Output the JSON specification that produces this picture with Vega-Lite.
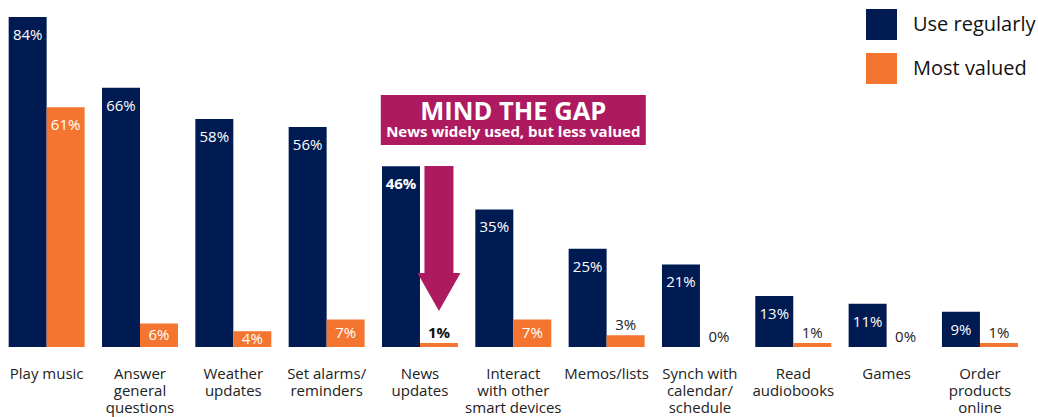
{
  "$schema": "https://vega.github.io/schema/vega-lite/v6.json",
  "autosize": "none",
  "padding": {"left": 0, "top": 0, "right": 11.4, "bottom": 70},
  "width": 1026.6,
  "height": 347,
  "background": "white",
  "config": {"view": {"stroke": null}, "font": "Open Sans"},
  "datasets": {
    "main": [
      {"category": "Play music", "series": "Use regularly", "value": 84},
      {"category": "Play music", "series": "Most valued", "value": 61},
      {"category": "Answer general questions", "series": "Use regularly", "value": 66},
      {"category": "Answer general questions", "series": "Most valued", "value": 6},
      {"category": "Weather updates", "series": "Use regularly", "value": 58},
      {"category": "Weather updates", "series": "Most valued", "value": 4},
      {"category": "Set alarms/reminders", "series": "Use regularly", "value": 56},
      {"category": "Set alarms/reminders", "series": "Most valued", "value": 7},
      {"category": "News updates", "series": "Use regularly", "value": 46},
      {"category": "News updates", "series": "Most valued", "value": 1},
      {"category": "Interact with other smart devices", "series": "Use regularly", "value": 35},
      {"category": "Interact with other smart devices", "series": "Most valued", "value": 7},
      {"category": "Memos/lists", "series": "Use regularly", "value": 25},
      {"category": "Memos/lists", "series": "Most valued", "value": 3},
      {"category": "Synch with calendar/schedule", "series": "Use regularly", "value": 21},
      {"category": "Synch with calendar/schedule", "series": "Most valued", "value": 0},
      {"category": "Read audiobooks", "series": "Use regularly", "value": 13},
      {"category": "Read audiobooks", "series": "Most valued", "value": 1},
      {"category": "Games", "series": "Use regularly", "value": 11},
      {"category": "Games", "series": "Most valued", "value": 0},
      {"category": "Order products online", "series": "Use regularly", "value": 9},
      {"category": "Order products online", "series": "Most valued", "value": 1}
    ],
    "note": [
      {"category": "Interact with other smart devices", "arrowCat": "News updates", "arrowSeries": "Most valued",
       "title": "MIND THE GAP", "subtitle": "News widely used, but less valued"}
    ]
  },
  "layer": [
    {
      "data": {"name": "main"},
      "transform": [
        {"calculate": "datum.value + '%'", "as": "label"},
        {"calculate": "datum.value / 2", "as": "mid"}
      ],
      "encoding": {
        "x": {
          "field": "category", "type": "nominal", "sort": null,
          "scale": {
            "domain": ["Play music", "Answer general questions", "Weather updates", "Set alarms/reminders", "News updates", "Interact with other smart devices", "Memos/lists", "Synch with calendar/schedule", "Read audiobooks", "Games", "Order products online"],
            "paddingInner": 0.186, "paddingOuter": 0.093
          },
          "axis": {
            "title": null, "domain": false, "ticks": false, "grid": false,
            "labelAngle": 0, "labelFontSize": 15, "labelColor": "#222",
            "labelPadding": 26, "labelLineHeight": 17, "labelLimit": 0,
            "labelOverlap": false, "labelBaseline": "middle",
            "labelExpr": "datum.value == 'Answer general questions' ? ['Answer','general','questions'] : datum.value == 'Weather updates' ? ['Weather','updates'] : datum.value == 'Set alarms/reminders' ? ['Set alarms/','reminders'] : datum.value == 'News updates' ? ['News','updates'] : datum.value == 'Interact with other smart devices' ? ['Interact','with other','smart devices'] : datum.value == 'Synch with calendar/schedule' ? ['Synch with','calendar/','schedule'] : datum.value == 'Read audiobooks' ? ['Read','audiobooks'] : datum.value == 'Order products online' ? ['Order','products','online'] : datum.value"
          }
        },
        "xOffset": {
          "field": "series", "type": "nominal", "sort": ["Use regularly", "Most valued"],
          "scale": {"domain": ["Use regularly", "Most valued"], "paddingInner": 0, "paddingOuter": 0}
        },
        "y": {
          "field": "value", "type": "quantitative",
          "scale": {"domain": [0, 88.3], "nice": false, "zero": true},
          "axis": null
        }
      },
      "layer": [
        {
          "mark": {"type": "bar"},
          "encoding": {
            "color": {
              "field": "series", "type": "nominal",
              "scale": {"domain": ["Use regularly", "Most valued"], "range": ["#001A52", "#F47530"]},
              "legend": {
                "orient": "none", "legendX": 866, "legendY": 9, "title": null,
                "symbolType": "square", "symbolSize": 961, "symbolStrokeWidth": 0, "symbolOpacity": 1,
                "labelFontSize": 20, "labelOffset": 16, "rowPadding": 13, "labelColor": "#111",
                "padding": 0
              }
            }
          }
        },
        {
          "transform": [{"filter": "datum.value >= 9 && datum.category != 'News updates'"}],
          "mark": {"type": "text", "baseline": "middle", "dy": 18, "fontSize": 15, "color": "white"},
          "encoding": {"text": {"field": "label"}}
        },
        {
          "transform": [{"filter": "datum.value >= 9 && datum.category == 'News updates'"}],
          "mark": {"type": "text", "baseline": "middle", "dy": 18, "fontSize": 15, "fontWeight": "bold", "color": "white"},
          "encoding": {"text": {"field": "label"}}
        },
        {
          "transform": [{"filter": "datum.value >= 4 && datum.value < 9"}],
          "mark": {"type": "text", "baseline": "middle", "fontSize": 15, "color": "white"},
          "encoding": {"y": {"field": "mid", "type": "quantitative"}, "text": {"field": "label"}}
        },
        {
          "transform": [{"filter": "datum.value < 4 && datum.category != 'News updates'"}],
          "mark": {"type": "text", "baseline": "alphabetic", "dy": -5, "fontSize": 15, "color": "#222"},
          "encoding": {"text": {"field": "label"}}
        },
        {
          "transform": [{"filter": "datum.value < 4 && datum.category == 'News updates'"}],
          "mark": {"type": "text", "baseline": "alphabetic", "dy": -5, "fontSize": 15, "fontWeight": "bold", "color": "#111"},
          "encoding": {"text": {"field": "label"}}
        }
      ]
    },
    {
      "data": {"name": "note"},
      "mark": {"type": "bar", "color": "#AE1A60", "width": 265},
      "encoding": {
        "x": {"field": "category", "type": "nominal", "sort": null},
        "y": {"datum": 64.1, "type": "quantitative"},
        "y2": {"datum": 51.4}
      }
    },
    {
      "data": {"name": "note"},
      "mark": {"type": "text", "fontSize": 25.5, "fontWeight": "bold", "color": "white", "baseline": "alphabetic", "align": "center"},
      "encoding": {
        "x": {"field": "category", "type": "nominal", "sort": null},
        "y": {"datum": 57.8, "type": "quantitative"},
        "text": {"field": "title"}
      }
    },
    {
      "data": {"name": "note"},
      "mark": {"type": "text", "fontSize": 15, "fontWeight": "bold", "color": "white", "baseline": "alphabetic", "align": "center"},
      "encoding": {
        "x": {"field": "category", "type": "nominal", "sort": null},
        "y": {"datum": 53.4, "type": "quantitative"},
        "text": {"field": "subtitle"}
      }
    },
    {
      "data": {"name": "note"},
      "mark": {"type": "point", "filled": true, "opacity": 1, "color": "#AE1A60", "size": 21025, "strokeWidth": 0,
        "shape": "M-0.2,-1L0.2,-1L0.2,0.476L0.297,0.476L0,1L-0.297,0.476L-0.2,0.476Z"},
      "encoding": {
        "x": {"field": "arrowCat", "type": "nominal", "sort": null},
        "xOffset": {"field": "arrowSeries", "type": "nominal", "sort": null},
        "y": {"datum": 27.6, "type": "quantitative"}
      }
    }
  ]
}
